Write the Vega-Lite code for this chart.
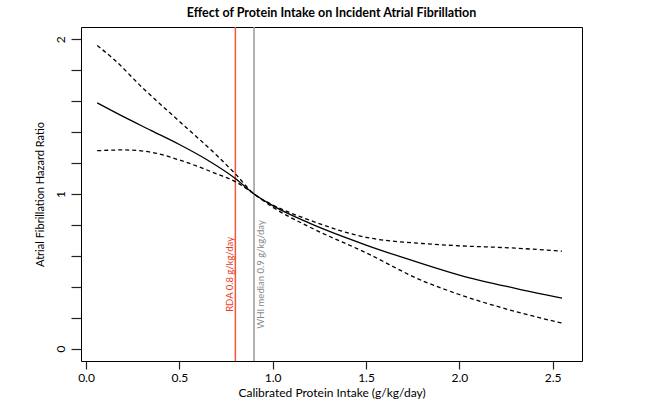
{
  "$schema": "https://vega.github.io/schema/vega-lite/v6.json",
  "width": 501,
  "height": 334,
  "autosize": {"type": "none"},
  "padding": {"left": 81, "top": 27, "right": 83, "bottom": 49},
  "config": {
    "view": {"stroke": "#000000", "strokeWidth": 1},
    "font": "Lato"
  },
  "title": {
    "text": "Effect of Protein Intake on Incident Atrial Fibrillation",
    "fontSize": 12.5,
    "fontWeight": "bold",
    "font": "Lato",
    "color": "#000000",
    "anchor": "middle",
    "offset": 7
  },
  "datasets": {
    "curves": [
      {"x": 0.06, "hr": 1.589, "s": "est"},
      {"x": 0.2, "hr": 1.5, "s": "est"},
      {"x": 0.35, "hr": 1.41, "s": "est"},
      {"x": 0.5, "hr": 1.32, "s": "est"},
      {"x": 0.65, "hr": 1.22, "s": "est"},
      {"x": 0.8, "hr": 1.1, "s": "est"},
      {"x": 0.9, "hr": 1.0, "s": "est"},
      {"x": 1.0, "hr": 0.925, "s": "est"},
      {"x": 1.2, "hr": 0.81, "s": "est"},
      {"x": 1.5, "hr": 0.67, "s": "est"},
      {"x": 1.8, "hr": 0.55, "s": "est"},
      {"x": 2.0, "hr": 0.476, "s": "est"},
      {"x": 2.3, "hr": 0.39, "s": "est"},
      {"x": 2.55, "hr": 0.327, "s": "est"},
      {"x": 0.06, "hr": 1.96, "s": "upper"},
      {"x": 0.15, "hr": 1.87, "s": "upper"},
      {"x": 0.3, "hr": 1.69, "s": "upper"},
      {"x": 0.5, "hr": 1.47, "s": "upper"},
      {"x": 0.7, "hr": 1.25, "s": "upper"},
      {"x": 0.8, "hr": 1.13, "s": "upper"},
      {"x": 0.9, "hr": 1.0, "s": "upper"},
      {"x": 1.0, "hr": 0.93, "s": "upper"},
      {"x": 1.2, "hr": 0.83, "s": "upper"},
      {"x": 1.5, "hr": 0.72, "s": "upper"},
      {"x": 1.8, "hr": 0.68, "s": "upper"},
      {"x": 2.0, "hr": 0.665, "s": "upper"},
      {"x": 2.3, "hr": 0.65, "s": "upper"},
      {"x": 2.55, "hr": 0.63, "s": "upper"},
      {"x": 0.06, "hr": 1.28, "s": "lower"},
      {"x": 0.2, "hr": 1.285, "s": "lower"},
      {"x": 0.35, "hr": 1.27, "s": "lower"},
      {"x": 0.5, "hr": 1.22, "s": "lower"},
      {"x": 0.7, "hr": 1.13, "s": "lower"},
      {"x": 0.8, "hr": 1.08, "s": "lower"},
      {"x": 0.9, "hr": 1.0, "s": "lower"},
      {"x": 1.0, "hr": 0.915, "s": "lower"},
      {"x": 1.2, "hr": 0.785, "s": "lower"},
      {"x": 1.5, "hr": 0.62, "s": "lower"},
      {"x": 1.8, "hr": 0.44, "s": "lower"},
      {"x": 2.0, "hr": 0.35, "s": "lower"},
      {"x": 2.3, "hr": 0.24, "s": "lower"},
      {"x": 2.55, "hr": 0.165, "s": "lower"}
    ],
    "refs": [
      {"x": 0.8, "label": "RDA 0.8 g/kg/day", "ref": "RDA", "ypos": 0.48},
      {"x": 0.9, "label": "WHI median 0.9 g/kg/day", "ref": "WHI", "ypos": 0.48}
    ]
  },
  "encoding": {
    "x": {
      "field": "x",
      "type": "quantitative",
      "scale": {"domain": [-0.027, 2.657], "nice": false, "zero": false},
      "axis": {
        "title": "Calibrated Protein Intake (g/kg/day)",
        "values": [0, 0.5, 1, 1.5, 2, 2.5],
        "domain": false,
        "grid": false,
        "tickColor": "#222222",
        "tickWidth": 1.2,
        "tickSize": 8,
        "labelFontSize": 12,
        "labelColor": "#000000",
        "labelFont": "Lato",
        "labelPadding": 3,
        "titleFont": "Lato",
        "titleFontSize": 12,
        "titleFontWeight": "normal",
        "titleColor": "#000000",
        "titlePadding": 4
      }
    },
    "y": {
      "field": "hr",
      "type": "quantitative",
      "scale": {"domain": [-0.08, 2.08], "nice": false, "zero": false},
      "axis": {
        "title": "Atrial Fibrillation Hazard Ratio",
        "values": [0, 0.2, 0.4, 0.6, 0.8, 1, 1.2, 1.4, 1.6, 1.8, 2],
        "format": "~g",
        "labelOpacity": {"condition": {"test": "datum.value == 0 || datum.value == 1 || datum.value == 2", "value": 1}, "value": 0},
        "domain": false,
        "grid": false,
        "ticks": true,
        "tickColor": "#222222",
        "tickWidth": 1.2,
        "tickSize": 10,
        "labelAngle": -90,
        "labelAlign": "center",
        "labelBaseline": "bottom",
        "labelFontSize": 12,
        "labelColor": "#000000",
        "labelFont": "Lato",
        "labelPadding": 4,
        "labelOverlap": false,
        "titleFont": "Lato",
        "titleFontSize": 11,
        "titleFontWeight": "normal",
        "titleColor": "#000000",
        "titlePadding": 9
      }
    }
  },
  "layer": [
    {
      "data": {"name": "refs"},
      "mark": {"type": "rule", "strokeWidth": 1.5},
      "encoding": {
        "y": null,
        "color": {
          "field": "ref",
          "type": "nominal",
          "scale": {"domain": ["RDA", "WHI"], "range": ["#EE5A3A", "#999999"]},
          "legend": null
        }
      }
    },
    {
      "data": {"name": "refs"},
      "transform": [{"filter": "datum.ref == 'RDA'"}],
      "mark": {"type": "text", "angle": 270, "align": "center", "baseline": "bottom", "fontSize": 9.5, "font": "Lato", "color": "#EE3A1A"},
      "encoding": {
        "y": {"field": "ypos", "type": "quantitative"},
        "text": {"field": "label"}
      }
    },
    {
      "data": {"name": "refs"},
      "transform": [{"filter": "datum.ref == 'WHI'"}],
      "mark": {"type": "text", "angle": 270, "align": "center", "baseline": "top", "dy": 2, "fontSize": 9.5, "font": "Lato", "color": "#888888"},
      "encoding": {
        "y": {"field": "ypos", "type": "quantitative"},
        "text": {"field": "label"}
      }
    },
    {
      "data": {"name": "curves"},
      "transform": [{"filter": "datum.s == 'est'"}],
      "mark": {"type": "line", "color": "#000000", "strokeWidth": 1.3, "interpolate": "monotone"},
      "encoding": {}
    },
    {
      "data": {"name": "curves"},
      "transform": [{"filter": "datum.s != 'est'"}],
      "mark": {"type": "line", "color": "#000000", "strokeWidth": 1.3, "strokeDash": [4, 3], "interpolate": "monotone"},
      "encoding": {"detail": {"field": "s"}}
    }
  ]
}
